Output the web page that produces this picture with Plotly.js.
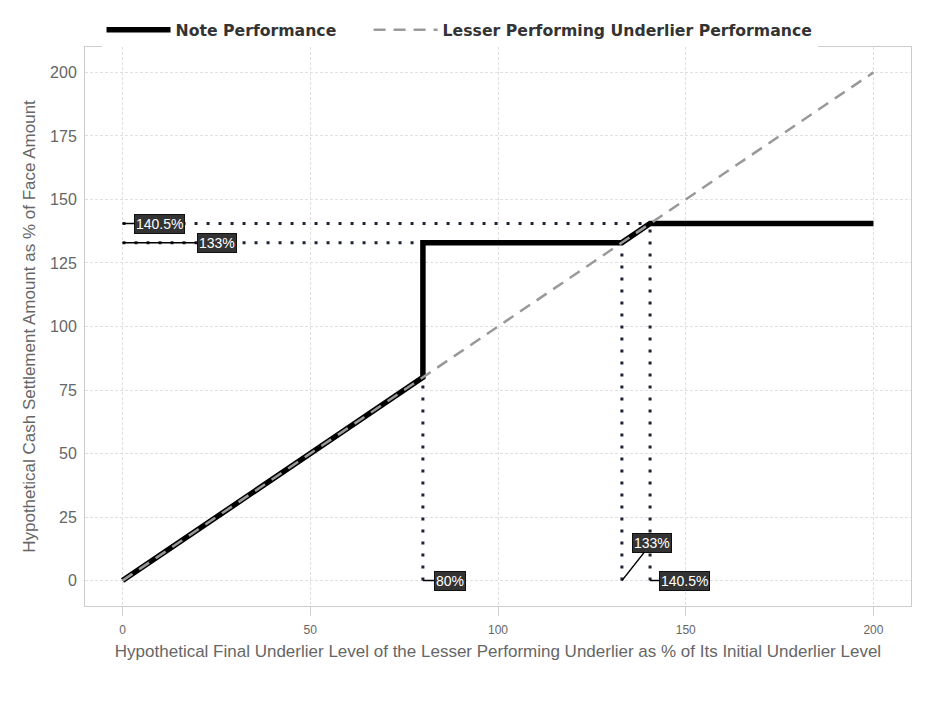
<!DOCTYPE html>
<html>
<head>
<meta charset="utf-8">
<script src="https://cdn.plot.ly/plotly-3.0.1.min.js"></script>
<style>html,body{margin:0;padding:0;background:#fff;}#chart{width:937px;height:703px;}</style>
</head>
<body>
<div id="chart"></div>
<script>
// Data
var noteX = [0, 80, 80, 133, 140.5, 200];
var noteY = [0, 80, 133, 133, 140.5, 140.5];
var underX = [0, 200];
var underY = [0, 200];
var barrier = 80;
var capLevel = 133;
var maxReturn = 140.5;
var seriesNames = ["Note Performance", "Lesser Performing Underlier Performance"];
var xTicks = [0, 50, 100, 150, 200];
var yTicks = [0, 25, 50, 75, 100, 125, 150, 175, 200];

var dotColor = '#1c2333';
var dotStyle = {color: dotColor, width: 3, dash: '3px,9px'};
function dotted(xs, ys) {
  return {x: xs, y: ys, mode: 'lines', line: dotStyle, showlegend: false, hoverinfo: 'skip'};
}
var pad = '\u00a0\u00a0\u00a0\u00a0\u00a0';

var traces = [
  dotted([0, maxReturn], [maxReturn, maxReturn]),
  dotted([0, capLevel], [capLevel, capLevel]),
  dotted([barrier, barrier], [0, barrier]),
  dotted([capLevel, capLevel], [0, capLevel]),
  dotted([maxReturn, maxReturn], [0, maxReturn]),
  {x: noteX, y: noteY, mode: 'lines', name: seriesNames[0] + pad,
   line: {color: '#000000', width: 5.5}},
  {x: underX, y: underY, mode: 'lines', name: seriesNames[1],
   line: {color: '#999999', width: 2.5, dash: '12px,8px'}}
];

function lbl(x, y, text, ax, ay) {
  return {x: x, y: y, xref: 'x', yref: 'y', text: text, showarrow: true,
    arrowhead: 0, arrowwidth: 1.5, arrowcolor: '#000', ax: ax, ay: ay,
    bgcolor: '#333333', bordercolor: '#111', borderwidth: 1, borderpad: 1,
    font: {color: '#ffffff', size: 14, family: 'Liberation Sans, Arial, sans-serif'}};
}

var annotations = [
  lbl(0, maxReturn, maxReturn + '%', 37, 0),
  lbl(0, capLevel, capLevel + '%', 94, 0),
  lbl(barrier, 0, barrier + '%', 27, 0),
  lbl(capLevel, 0, capLevel + '%', 30, -38),
  lbl(maxReturn, 0, maxReturn + '%', 34, 0)
];

var axisCommon = {
  showgrid: true, gridcolor: '#e0e0e0', griddash: '3px,2px', gridwidth: 1,
  zeroline: false, showline: true, linecolor: '#cccccc', linewidth: 1, mirror: true
};

var layout = {
  width: 937, height: 703,
  margin: {l: 85, r: 26, t: 47, b: 97},
  paper_bgcolor: '#ffffff', plot_bgcolor: '#ffffff',
  font: {family: 'Liberation Sans, Arial, sans-serif', color: '#444'},
  showlegend: true,
  legend: {orientation: 'h', x: 0.02, xanchor: 'left', y: 1.0, yanchor: 'bottom',
    font: {size: 15.7, color: '#333', weight: 'bold', family: 'DejaVu Sans, sans-serif'},
    itemwidth: 64, traceorder: 'normal'},
  xaxis: Object.assign({}, axisCommon, {
    range: [-10, 210], tickvals: xTicks, ticktext: xTicks.map(String),
    ticks: 'outside', ticklen: 9, tickcolor: '#d0d0d0', ticklabelstandoff: 4,
    tickfont: {color: '#666666', size: 12},
    title: {text: 'Hypothetical Final Underlier Level of the Lesser Performing Underlier as % of Its Initial Underlier Level',
      font: {size: 17, color: '#666666'}, standoff: 8}
  }),
  yaxis: Object.assign({}, axisCommon, {
    range: [-10, 210], tickvals: yTicks, ticktext: yTicks.map(String),
    ticks: '', ticklabelstandoff: 4,
    tickfont: {color: '#666666', size: 16},
    title: {text: 'Hypothetical Cash Settlement Amount as % of Face Amount',
      font: {size: 17, color: '#666666'}, standoff: 10}
  }),
  annotations: annotations
};

Plotly.newPlot('chart', traces, layout, {displayModeBar: false, staticPlot: true});
</script>
</body>
</html>
